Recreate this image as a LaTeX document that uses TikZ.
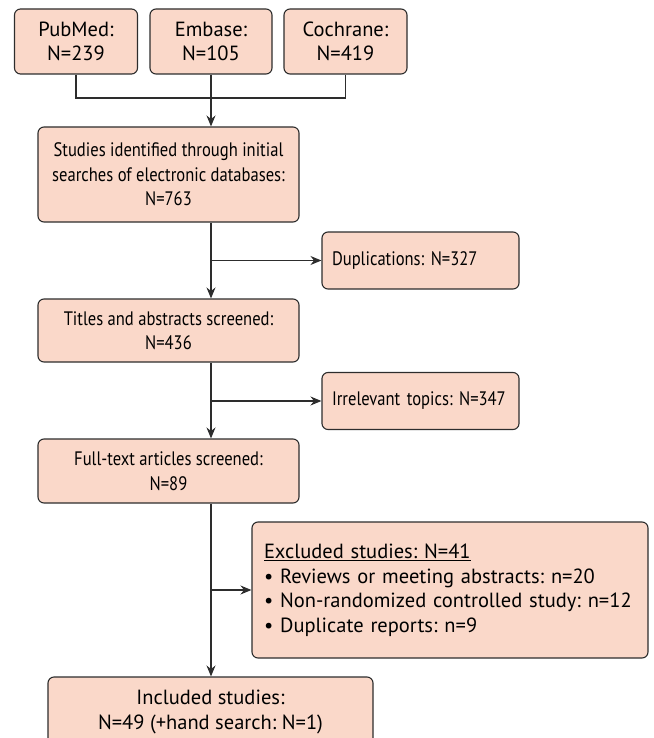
\documentclass[tikz,border=0pt]{standalone}
\usepackage{fontspec}
\setmainfont{PT Sans}
\newfontfamily\condfont[FakeStretch=0.85]{PT Sans}
\usetikzlibrary{arrows.meta}
\definecolor{boxfill}{RGB}{250,216,201}
\definecolor{linegray}{RGB}{45,45,45}
\frenchspacing
\begin{document}
\begin{tikzpicture}[
        x=1pt, y=-1pt,
        % Define styles for consistency
        box/.style={draw=linegray, fill=boxfill, rounded corners=6pt, line width=1.1pt,
            inner sep=0pt, align=center, font=\fontsize{20.5}{24.5}\selectfont},
        mainbox/.style={box, minimum width=261pt, font=\fontsize{19.5}{24.5}\condfont},
        sidebox/.style={box, minimum width=197pt, minimum height=57pt, align=left,
            text width=177pt, font=\fontsize{19.5}{24.5}\condfont},
        link/.style={linegray, line width=1.2pt},
        arrow/.style={link, -{Stealth[length=11pt, width=9pt]}}
    ]
        \useasboundingbox (0,0) rectangle (653,738);

        % --- Databases ---
        \node[box, minimum width=123pt, minimum height=65pt] (pubmed) at (76,41.5) {PubMed:\\N=239};
        \node[box, minimum width=122pt, minimum height=65pt] (embase) at (211,41.5) {Embase:\\N=105};
        \node[box, minimum width=123pt, minimum height=65pt] (cochrane) at (345.5,41.5) {Cochrane:\\N=419};

        % --- Main column ---
        \node[mainbox, minimum height=95pt] (studies) at (168.5,174.5)
            {Studies identified through initial\\searches of electronic databases:\\N=763};
        \node[mainbox, minimum height=63pt] (titles) at (168.5,330.5)
            {Titles and abstracts screened:\\N=436};
        \node[mainbox, minimum height=64pt] (fulltext) at (168.5,471)
            {Full-text articles screened:\\N=89};
        \node[box, minimum width=325pt, minimum height=70pt] (included) at (210.5,712)
            {Included studies:\\N=49 (+hand search: N=1)};

        % --- Exclusions ---
        \node[sidebox] (dup) at (420.5,260.5) {Duplications: N=327};
        \node[sidebox] (irrelevant) at (420.5,401) {Irrelevant topics: N=347};
        \node[box, minimum width=396pt, minimum height=136pt, align=left, text width=372pt] (excluded) at (450,590)
            {\underline{Excluded studies: N=41}\\
             \textbullet\ Reviews or meeting abstracts: n=20\\
             \textbullet\ Non-randomized controlled study: n=12\\
             \textbullet\ Duplicate reports: n=9};

        % --- Connectors ---
        \coordinate (join) at (211,98);
        \draw[link] (pubmed.south) |- (join) -| (cochrane.south);
        \draw[arrow] (embase.south) -- (embase.south |- studies.north);

        \draw[arrow] (embase.south |- studies.south) -- (embase.south |- titles.north);
        \draw[arrow] (embase.south |- titles.south) -- (embase.south |- fulltext.north);
        \draw[arrow] (embase.south |- fulltext.south) -- (embase.south |- included.north);

        \draw[arrow] (embase.south |- dup.west) -- (dup.west);
        \draw[arrow] (embase.south |- irrelevant.west) -- (irrelevant.west);
        \draw[arrow] (embase.south |- excluded.west) -- (excluded.west);

    \end{tikzpicture}
\end{document}
